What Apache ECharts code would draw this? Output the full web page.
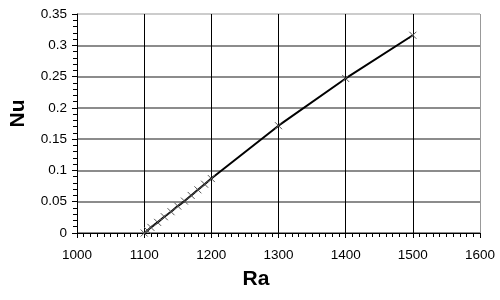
<!DOCTYPE html>
<html>
<head>
<meta charset="utf-8">
<script src="https://cdn.jsdelivr.net/npm/echarts@6/dist/echarts.min.js"></script>
<style>html,body{margin:0;padding:0;background:#fff}#c{width:500px;height:300px}</style>
</head>
<body>
<div id="c"></div>
<script>
var ra = [1100, 1105, 1110, 1120, 1130, 1140, 1150, 1160, 1170, 1180, 1190, 1200, 1300, 1400, 1500];
var nu = [0, 0.004, 0.009, 0.017, 0.026, 0.034, 0.043, 0.051, 0.060, 0.069, 0.078, 0.087, 0.1715, 0.247, 0.316];
var xTicks = [1000, 1100, 1200, 1300, 1400, 1500, 1600];
var yTicks = [0, 0.05, 0.1, 0.15, 0.2, 0.25, 0.3, 0.35];

var chart = echarts.init(document.getElementById('c'), null, {renderer: 'canvas'});
var pts = ra.map(function (r, i) { return [r, nu[i]]; });
chart.setOption({
  animation: false,
  backgroundColor: '#fff',
  grid: {left: 71, right: 20, top: 14, bottom: 67},
  xAxis: {
    type: 'value',
    min: xTicks[0], max: xTicks[xTicks.length - 1], interval: 100,
    name: 'Ra', nameLocation: 'middle', nameGap: 36,
    nameTextStyle: {fontFamily: 'Liberation Sans', fontWeight: 'bold', fontSize: 21, color: '#000', padding: [0, 45, 0, 0]},
    axisLine: {lineStyle: {color: '#000', width: 1}},
    axisTick: {show: true, length: 5, lineStyle: {color: '#000'}},
    minorTick: {show: true, splitNumber: 10, length: 4, lineStyle: {color: '#000'}},
    axisLabel: {fontFamily: 'Liberation Sans', fontSize: 13.5, color: '#000', margin: 15,
      formatter: function (v) { return String(v); }},
    splitLine: {show: true, lineStyle: {color: ['#000', '#000', '#000', '#000', '#000', '#000', '#999'], width: 1}}
  },
  yAxis: {
    type: 'value',
    min: yTicks[0], max: yTicks[yTicks.length - 1], interval: 0.05,
    name: 'Nu', nameLocation: 'middle', nameGap: 48, nameRotate: 90,
    nameTextStyle: {fontFamily: 'Liberation Sans', fontWeight: 'bold', fontSize: 21, color: '#000', padding: [0, 0, 0, 20]},
    axisLine: {show: true, lineStyle: {color: '#000', width: 1}},
    axisTick: {show: true, length: 5, lineStyle: {color: '#000'}},
    minorTick: {show: true, splitNumber: 5, length: 4, lineStyle: {color: '#000'}},
    axisLabel: {fontFamily: 'Liberation Sans', fontSize: 13.5, color: '#000', margin: 10,
      formatter: function (v) { return String(Math.round(v * 100) / 100); }},
    splitLine: {show: true, lineStyle: {color: ['#666', '#666', '#666', '#666', '#666', '#666', '#666', '#bbb'], width: 1.5}}
  },
  series: [{
    type: 'line',
    data: pts,
    symbol: 'path://M0,0L10,10M10,0L0,10',
    symbolSize: 7,
    showSymbol: true,
    lineStyle: {color: '#000', width: 2},
    itemStyle: {color: '#555', borderColor: '#555', borderWidth: 1},
    z: 5
  }]
});
</script>
</body>
</html>
